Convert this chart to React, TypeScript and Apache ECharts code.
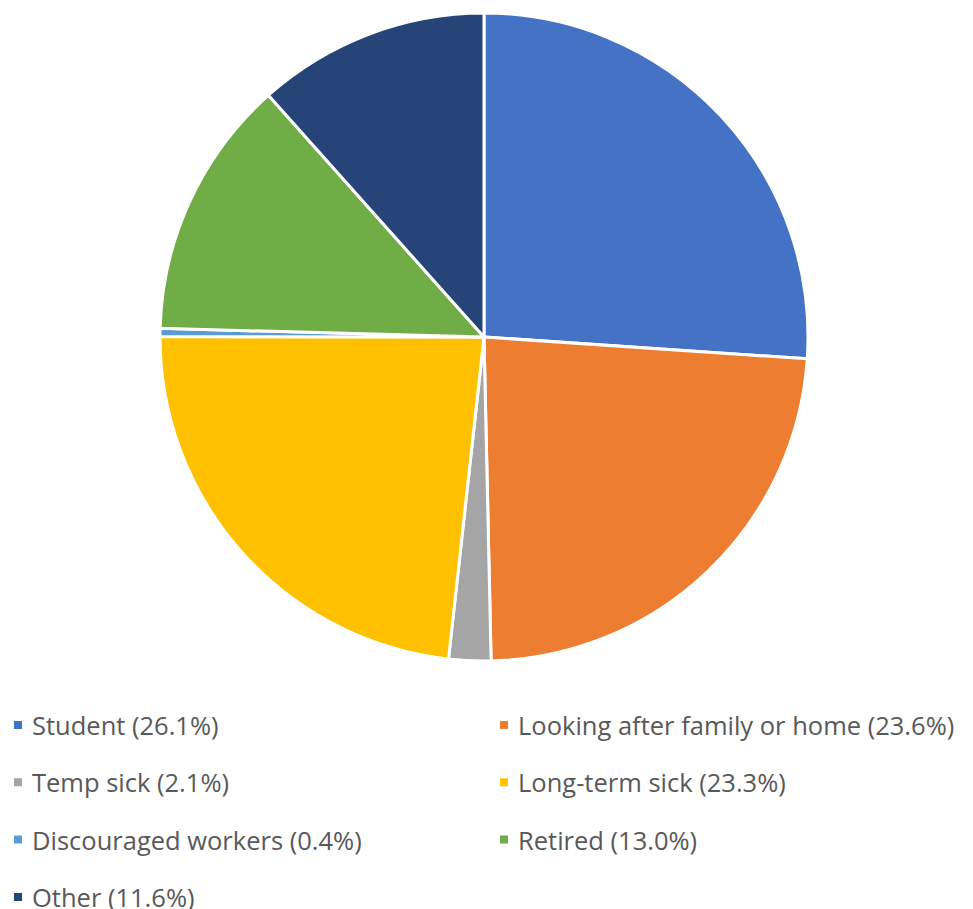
import React, { useEffect, useRef } from "react";
import * as echarts from "echarts";

const categories = [
  "Student",
  "Looking after family or home",
  "Temp sick",
  "Long-term sick",
  "Discouraged workers",
  "Retired",
  "Other",
];
const values = [26.1, 23.6, 2.1, 23.3, 0.4, 13.0, 11.6];
const colors = ["#4472C4", "#ED7D31", "#A5A5A5", "#FFC000", "#5B9BD5", "#70AD47", "#264478"];
const leftLegend = ["Student", "Temp sick", "Discouraged workers", "Other"];
const rightLegend = ["Looking after family or home", "Long-term sick", "Retired"];

export default function App() {
  const ref = useRef<HTMLDivElement>(null);
  useEffect(() => {
    if (!ref.current) return;
    const chart = echarts.init(ref.current, null, { renderer: "svg" });
    const fmt = (name: string) => {
      const i = categories.indexOf(name);
      return `${name} (${values[i].toFixed(1)}%)`;
    };
    const legendBase = {
      orient: "vertical" as const,
      top: 712,
      padding: 0,
      height: 300,
      itemWidth: 10,
      itemHeight: 10,
      itemGap: 31.3,
      icon: "rect",
      formatter: fmt,
      textStyle: {
        fontFamily: "Open Sans",
        fontSize: 25.5,
        color: "#595959",
        padding: [0, 0, 0, 4],
      },
    };
    chart.setOption({
      animation: false,
      color: colors,
      legend: [
        { ...legendBase, left: 12, data: leftLegend },
        { ...legendBase, left: 498, data: rightLegend },
      ],
      series: [
        {
          type: "pie",
          center: [484, 337],
          radius: [0, 324],
          startAngle: 90,
          clockwise: true,
          label: { show: false },
          labelLine: { show: false },
          itemStyle: { borderColor: "#ffffff", borderWidth: 3 },
          emphasis: { disabled: true },
          data: categories.map((c, i) => ({ name: c, value: values[i] })),
        },
      ],
    });
    return () => chart.dispose();
  }, []);
  return (
    <div
      ref={ref}
      style={{ position: "fixed", left: 0, top: 0, width: 973, height: 909, background: "#fff" }}
    />
  );
}
